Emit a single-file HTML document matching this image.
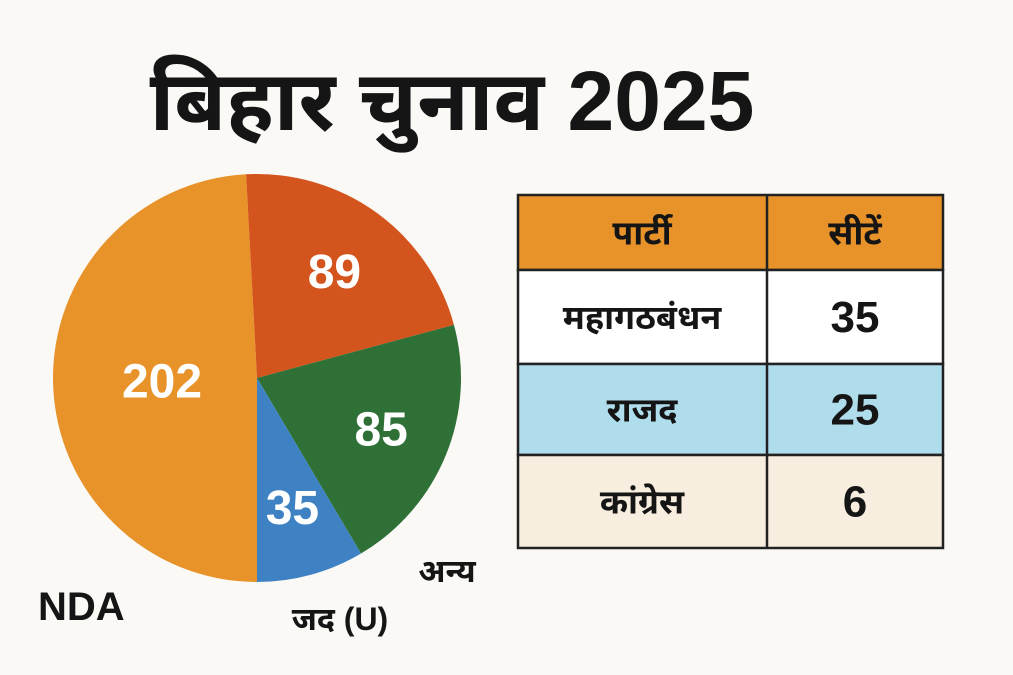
<!DOCTYPE html>
<html><head><meta charset="utf-8"><style>
body{margin:0;width:1013px;height:675px;background:#FAF9F5;overflow:hidden;font-family:"Liberation Sans","Noto Sans Devanagari","Lohit Devanagari","DejaVu Sans",sans-serif;}
svg{position:absolute;left:0;top:0}
</style></head><body>
<svg width="1013" height="675" viewBox="0 0 1013 675">
<text x="452" y="130" text-anchor="middle" font-size="84" font-weight="bold" fill="#151515">बिहार चुनाव 2025</text>
<g id="pie"></g>
<text x="38" y="620" font-size="40" font-weight="bold" fill="#151515">NDA</text>
<text x="340" y="630" text-anchor="middle" font-size="32" font-weight="bold" fill="#151515">जद (U)</text>
<text x="447" y="582" text-anchor="middle" font-size="32" font-weight="bold" fill="#151515">अन्य</text>
<g id="tbl"></g>
</svg>
<script>
const sliceLabels=["202","89","85","35"];
const sliceValues=[202,89,85,35];
const sliceColors=["#E8922A","#D4541E","#2E7035","#3F82C4"];
const tableParties=["महागठबंधन","राजद","कांग्रेस"];
const tableSeats=[35,25,6];
const ns="http://www.w3.org/2000/svg";
const cx=257,cy=378,r=204;
const labelR=[95,132,134,134];
const pie=document.getElementById('pie');
const total=sliceValues.reduce((a,b)=>a+b,0);
let a=180;
function pt(deg,rr){const t=deg*Math.PI/180;return [cx+rr*Math.sin(t),cy-rr*Math.cos(t)];}
const names=["nda","red","green","blue"];
sliceValues.forEach((v,i)=>{
 const sweep=v/total*360;const a0=a,a1=a+sweep;
 const p0=pt(a0,r),p1=pt(a1,r);
 const p=document.createElementNS(ns,'path');
 p.setAttribute('d',`M${cx},${cy}L${p0[0]},${p0[1]}A${r},${r} 0 ${sweep>180?1:0} 1 ${p1[0]},${p1[1]}Z`);
 p.setAttribute('fill',sliceColors[i]);
 
 
 pie.appendChild(p);
 const lp=pt((a0+a1)/2,labelR[i]);
 const t=document.createElementNS(ns,'text');
 t.setAttribute('x',lp[0]);t.setAttribute('y',lp[1]+17);
 t.setAttribute('text-anchor','middle');t.setAttribute('font-size','48');t.setAttribute('font-weight','bold');t.setAttribute('fill','#fff');
 t.textContent=sliceLabels[i];
 
 
 pie.appendChild(t);
 a=a1;
});
const tbl=document.getElementById('tbl');
const rowsY=[195,270,364,455,548];
const rowFill=["#E8922A","#FFFFFF","#B0DDEC","#F8EEDF"];
const cells=[["पार्टी","सीटें"]].concat(tableParties.map((p,i)=>[p,String(tableSeats[i])]));
for(let i=0;i<4;i++){
 const rc=document.createElementNS(ns,'rect');
 rc.setAttribute('x',518);rc.setAttribute('y',rowsY[i]);rc.setAttribute('width',425);rc.setAttribute('height',rowsY[i+1]-rowsY[i]);
 rc.setAttribute('fill',rowFill[i]);rc.setAttribute('stroke','#222');rc.setAttribute('stroke-width','2.5');
 
 
 tbl.appendChild(rc);
 [[642,0],[855,1]].forEach(([x,j])=>{
  const t=document.createElementNS(ns,'text');
  t.setAttribute('x',x);t.setAttribute('y',(rowsY[i]+rowsY[i+1])/2+(j==1&&i>0?15:12));
  t.setAttribute('text-anchor','middle');t.setAttribute('font-weight','bold');
  t.setAttribute('font-size',j==1&&i>0?44:34);t.setAttribute('fill','#151515');
  t.textContent=cells[i][j];
  
  
  tbl.appendChild(t);
 });
}
const ln=document.createElementNS(ns,'line');
ln.setAttribute('x1',767);ln.setAttribute('x2',767);ln.setAttribute('y1',195);ln.setAttribute('y2',548);
ln.setAttribute('stroke','#222');ln.setAttribute('stroke-width','2.5');


tbl.appendChild(ln);
</script>
</body></html>
